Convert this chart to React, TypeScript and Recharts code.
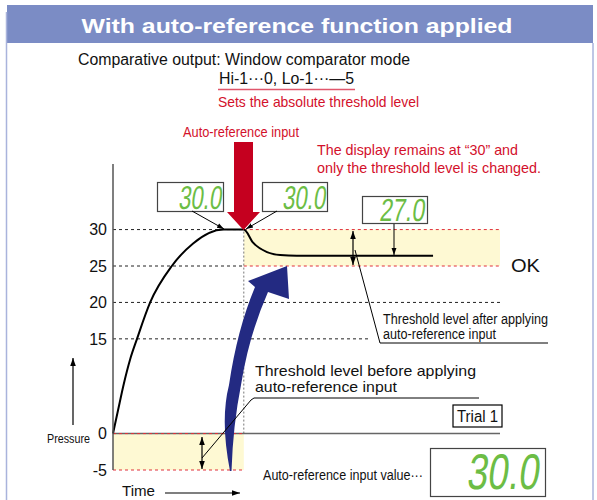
import React from 'react';
import { ComposedChart, Line, XAxis, YAxis, ReferenceLine, ReferenceArea } from 'recharts';

// time (arbitrary units) and pressure
const TIME = [0, 1.3, 2.8, 4.4, 6.2, 9.6, 15.2, 20.7, 28.5, 33.8, 36.2, 39.8, 43.2, 47.5, 82.7];
const PRESSURE = [0, 3.7, 7.9, 11.7, 15, 20, 25, 28.1, 30, 30, 28.2, 26.9, 26.5, 26.4, 26.4];
const Y_TICKS = [-5, 0, 15, 20, 25, 30];
const INPUT_TIME = 33.8;
const BEFORE_LEVELS = [-5, 0];
const AFTER_LEVELS = [25, 30];
const GRID_LEVELS = [15, 20];
const DISPLAY_VALUES = ['30.0', '30.0', '27.0', '30.0'];

// the pressure axis is broken between 0 and 15
const toDisplay = (v: number) => (v <= 0 ? v : v < 15 ? (v * 13) / 15 : v - 2);

const data = TIME.map((t, i) => ({ t, p: toDisplay(PRESSURE[i]) }));
const tickLabel: Record<string, string> = {};
Y_TICKS.forEach((v) => (tickLabel[String(toDisplay(v))] = String(v)));

const FONT = '"Liberation Sans", Arial, sans-serif';
const RED = '#d3102b';
const GREEN = '#6cbd45';
const YELLOW = '#fef9d3';

function Txt(props: { x: number; y: number; size: number; w?: number; fill?: string; bold?: boolean; anchor?: string; children: string }) {
  const { x, y, size, w, fill = '#111', bold, anchor = 'start', children } = props;
  return (
    <text x={x} y={y} fontSize={size} fontFamily={FONT} fill={fill} fontWeight={bold ? 700 : 400} textAnchor={anchor}
      textLength={w} lengthAdjust={w ? 'spacingAndGlyphs' : undefined}>
      {children}
    </text>
  );
}

function Display(props: { x: number; y: number; w: number; h: number; value: string; tx: number; ty: number; size: number; tw: number }) {
  const { x, y, w, h, value, tx, ty, size, tw } = props;
  return (
    <g>
      <rect x={x} y={y} width={w} height={h} fill="#fff" stroke="#444" strokeWidth={1.2} />
      <g transform={`translate(${tx},${ty}) skewX(-8)`}>
        <text x={0} y={0} fontSize={size} fontFamily={FONT} fill={GREEN} textLength={tw} lengthAdjust="spacingAndGlyphs">
          {value}
        </text>
      </g>
    </g>
  );
}

function Overlay() {
  return (
    <svg width={597} height={500} style={{ position: 'absolute', left: 0, top: 0, pointerEvents: 'none' }}>
      <defs>
        <marker id="ah" viewBox="0 0 10 10" refX="10" refY="5" markerWidth="7" markerHeight="7" orient="auto-start-reverse">
          <path d="M0,1.5 L10,5 L0,8.5 z" fill="#000" />
        </marker>
      </defs>

      {/* frame + header */}
      <rect x={7} y={5} width={586} height={38} fill="#7b8cc5" />
      <line x1={6.5} y1={12} x2={6.5} y2={500} stroke="#a9b3dc" strokeWidth={1.5} />
      <line x1={593} y1={43} x2={593} y2={500} stroke="#a9b3dc" strokeWidth={1.5} />
      <Txt x={297} y={33} size={20} bold fill="#fff" anchor="middle" w={431}>With auto-reference function applied</Txt>

      <Txt x={78} y={65} size={16} w={332}>Comparative output: Window comparator mode</Txt>
      <Txt x={219} y={84} size={16} w={135}>Hi-1···0, Lo-1···—5</Txt>
      <line x1={218} y1={89.5} x2={355} y2={89.5} stroke="#e0566b" strokeWidth={1.5} />
      <Txt x={218} y={107} size={15} fill={RED} w={201}>Sets the absolute threshold level</Txt>

      <Txt x={183} y={137} size={14} fill={RED} w={116}>Auto-reference input</Txt>
      <Txt x={317} y={155} size={15} fill={RED} w={201}>The display remains at “30” and</Txt>
      <Txt x={317} y={173} size={15} fill={RED} w={224}>only the threshold level is changed.</Txt>

      {/* red input arrow */}
      <polygon points="234,142 253,142 253,212 260,212 243.5,230 227,212 234,212" fill="#c5001f" />

      {/* blue arrow */}
      <path d="M230,471 Q220,420 229,385 Q237,330 255,287 L248,281 L287,266 L289,299 L268,292 Q249,335 241,385 Q233,425 231.5,471 Z" fill="#232a82" />

      {/* displays */}
      <Display x={157.5} y={182.5} w={66} h={29} value={DISPLAY_VALUES[0]} tx={178} ty={209} size={33} tw={43} />
      <Display x={262.5} y={182.5} w={65} h={29} value={DISPLAY_VALUES[1]} tx={282} ty={209} size={33} tw={43} />
      <Display x={362.5} y={196.5} w={65} h={27} value={DISPLAY_VALUES[2]} tx={379} ty={221} size={32} tw={45} />
      <Display x={430.5} y={448.5} w={115} h={48} value={DISPLAY_VALUES[3]} tx={466} ty={489} size={50} tw={72} />

      <line x1={192} y1={211} x2={224} y2={229} stroke="#000" strokeWidth={1} markerEnd="url(#ah)" />
      <line x1={277} y1={211} x2={246} y2={229} stroke="#000" strokeWidth={1} markerEnd="url(#ah)" />
      <line x1={394} y1={224} x2={394} y2={255} stroke="#000" strokeWidth={1} markerEnd="url(#ah)" />
      <line x1={353} y1={231} x2={353} y2={265} stroke="#000" strokeWidth={1.2} markerStart="url(#ah)" markerEnd="url(#ah)" />
      <line x1={202} y1={437} x2={202} y2={469} stroke="#000" strokeWidth={1.2} markerStart="url(#ah)" markerEnd="url(#ah)" />

      <Txt x={511} y={272} size={19} w={29}>OK</Txt>

      <polyline points="355,250 380,343 548,343" fill="none" stroke="#000" strokeWidth={1} />
      <Txt x={383} y={324} size={14} w={165}>Threshold level after applying</Txt>
      <Txt x={383} y={339} size={14} w={113}>auto-reference input</Txt>

      <polyline points="202,458 251,400 254,398 479,398" fill="none" stroke="#000" strokeWidth={1} />
      <Txt x={255} y={376} size={15} w={221}>Threshold level before applying</Txt>
      <Txt x={255} y={392} size={15} w={142}>auto-reference input</Txt>

      <rect x={453} y={405} width={49} height={22} fill="#fff" stroke="#000" strokeWidth={1.2} />
      <Txt x={457} y={422} size={16} w={41}>Trial 1</Txt>

      <Txt x={263} y={480} size={14} w={160}>Auto-reference input value···</Txt>

      <Txt x={47} y={443} size={13} w={43}>Pressure</Txt>
      <line x1={73} y1={425} x2={73} y2={358} stroke="#000" strokeWidth={1.2} markerEnd="url(#ah)" />
      <Txt x={122} y={496} size={15} w={33}>Time</Txt>
      <line x1={165} y1={493} x2={240} y2={493} stroke="#000" strokeWidth={1.2} markerEnd="url(#ah)" />
    </svg>
  );
}

export default function App() {
  const y0 = toDisplay(0);
  return (
    <div style={{ position: 'absolute', left: 0, top: 0, width: 597, height: 500, background: '#fff', overflow: 'hidden' }}>
      <ComposedChart width={597} height={500} data={data} margin={{ top: 164, right: 97, bottom: 30, left: 0 }}>
        <XAxis type="number" dataKey="t" domain={[0, 100]} hide />
        <YAxis
          type="number"
          domain={[-5, 37]}
          ticks={Y_TICKS.map(toDisplay)}
          interval={0}
          width={113}
          tickLine={false}
          tickSize={4}
          tickMargin={2}
          axisLine={{ stroke: '#555', strokeWidth: 1.5 }}
          tick={{ fill: '#111', fontSize: 16, fontFamily: FONT }}
          tickFormatter={(v: number) => tickLabel[String(v)] ?? ''}
        />
        <ReferenceArea x1={INPUT_TIME} x2={100} y1={toDisplay(AFTER_LEVELS[0])} y2={toDisplay(AFTER_LEVELS[1])} fill={YELLOW} fillOpacity={1} stroke="none" />
        <ReferenceArea x1={0} x2={INPUT_TIME} y1={toDisplay(BEFORE_LEVELS[0])} y2={toDisplay(BEFORE_LEVELS[1])} fill={YELLOW} fillOpacity={1} stroke="none" />

        {AFTER_LEVELS.map((v) => (
          <ReferenceLine key={'b' + v} segment={[{ x: 0, y: toDisplay(v) }, { x: INPUT_TIME, y: toDisplay(v) }]} stroke="#222" strokeDasharray="3 3" />
        ))}
        {AFTER_LEVELS.map((v) => (
          <ReferenceLine key={'r' + v} segment={[{ x: INPUT_TIME, y: toDisplay(v) }, { x: 100, y: toDisplay(v) }]} stroke="#e0303a" strokeDasharray="3 3" />
        ))}
        <ReferenceLine segment={[{ x: 0, y: toDisplay(GRID_LEVELS[1]) }, { x: 100, y: toDisplay(GRID_LEVELS[1]) }]} stroke="#222" strokeDasharray="3 3" />
        <ReferenceLine segment={[{ x: 0, y: toDisplay(GRID_LEVELS[0]) }, { x: 66, y: toDisplay(GRID_LEVELS[0]) }]} stroke="#222" strokeDasharray="3 3" />
        <ReferenceLine segment={[{ x: INPUT_TIME, y: y0 }, { x: INPUT_TIME, y: toDisplay(30) }]} stroke="#777" strokeDasharray="2 2" />
        <ReferenceLine segment={[{ x: 0, y: y0 }, { x: 100, y: y0 }]} stroke="#666" strokeWidth={1.5} />
        {BEFORE_LEVELS.map((v) => (
          <ReferenceLine key={'l' + v} segment={[{ x: 0, y: toDisplay(v) }, { x: INPUT_TIME, y: toDisplay(v) }]} stroke="#e0303a" strokeDasharray="3 3" />
        ))}

        <Line type="monotone" dataKey="p" stroke="#000" strokeWidth={2} dot={false} isAnimationActive={false} />
      </ComposedChart>
      <Overlay />
    </div>
  );
}
